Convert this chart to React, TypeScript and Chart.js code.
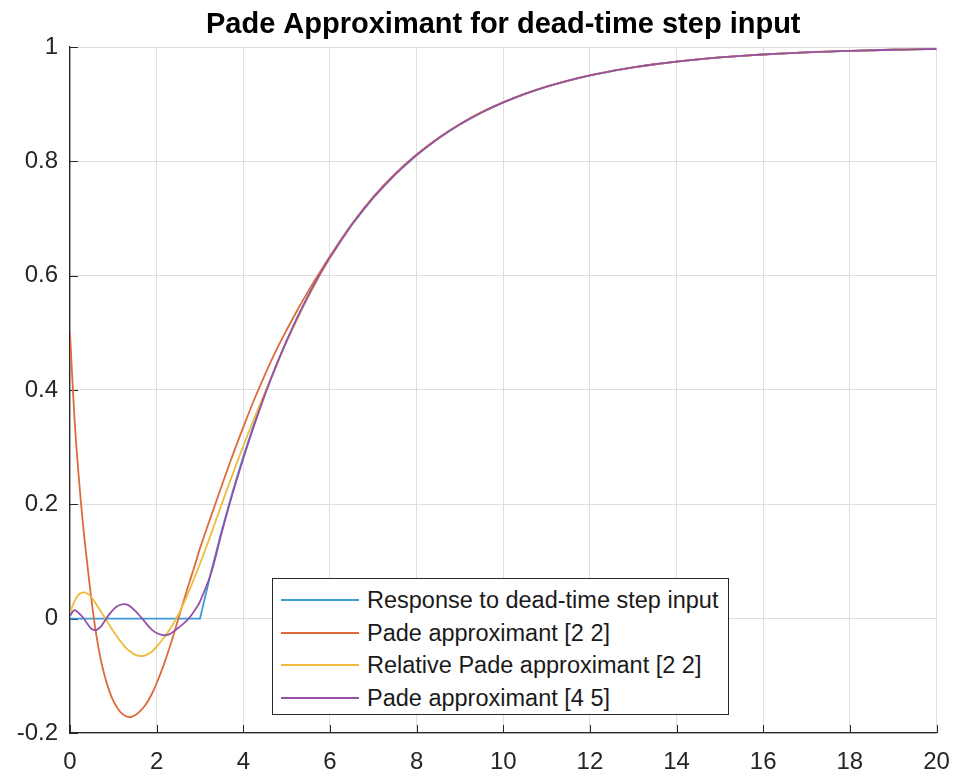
import React, { useEffect, useRef } from "react";
import { Chart, registerables } from "chart.js";

Chart.register(...registerables);

const chartTitle = "Pade Approximant for dead-time step input";

const times = [
  0, 0.1, 0.2, 0.3, 0.4, 0.5, 0.6, 0.7, 0.8, 0.9, 1, 1.1, 1.2, 1.3, 1.4, 1.5, 1.6, 1.7, 1.8, 1.9, 2,
  2.1, 2.2, 2.3, 2.4, 2.5, 2.6, 2.7, 2.8, 2.9, 3,
  3.25, 3.5, 3.75, 4, 4.25, 4.5, 4.75, 5, 5.25, 5.5, 5.75, 6,
  6.5, 7, 7.5, 8, 8.5, 9, 9.5, 10, 10.5, 11, 11.5, 12, 12.5, 13, 13.5, 14, 14.5, 15, 15.5, 16, 16.5,
  17, 17.5, 18, 18.5, 19, 19.5, 20,
];

const responseValues = [
  0, 0, 0, 0, 0, 0, 0, 0, 0, 0, 0, 0, 0, 0, 0, 0, 0, 0, 0, 0, 0,
  0, 0, 0, 0, 0, 0, 0, 0, 0, 0,
  0.08, 0.1535, 0.2212, 0.2835, 0.3408, 0.3935, 0.442, 0.4866, 0.5276, 0.5654, 0.6002, 0.6321,
  0.6886, 0.7364, 0.7769, 0.8111, 0.8401, 0.8647, 0.8854, 0.903, 0.9179, 0.9305, 0.9412, 0.9502,
  0.9579, 0.9643, 0.9698, 0.9744, 0.9784, 0.9817, 0.9845, 0.9869, 0.9889, 0.9906, 0.992, 0.9933,
  0.9943, 0.9952, 0.9959, 0.9965,
];

const pade22Values = [
  0.5, 0.355, 0.25, 0.165, 0.095, 0.03, -0.025, -0.068, -0.1, -0.125, -0.144, -0.157, -0.166,
  -0.171, -0.172, -0.169, -0.163, -0.155, -0.144, -0.13, -0.113, -0.094, -0.073, -0.05, -0.026,
  0.0, 0.025, 0.05, 0.074, 0.098, 0.123,
  0.178, 0.232, 0.285, 0.335, 0.383, 0.427, 0.468, 0.505, 0.54, 0.573, 0.604, 0.634,
  0.69, 0.738, 0.778, 0.812, 0.841, 0.865, 0.886, 0.903, 0.918, 0.9305, 0.9412, 0.9502,
  0.9579, 0.9643, 0.9698, 0.9744, 0.9784, 0.9817, 0.9845, 0.9869, 0.9889, 0.9906, 0.992, 0.9933,
  0.9943, 0.9952, 0.9959, 0.9965,
];

const relativePade22Values = [
  0.01, 0.03, 0.042, 0.046, 0.044, 0.037, 0.026, 0.014, 0.002, -0.01, -0.022, -0.033, -0.043,
  -0.052, -0.058, -0.063, -0.065, -0.065, -0.062, -0.057, -0.049, -0.04, -0.03, -0.019, -0.007,
  0.007, 0.023, 0.04, 0.058, 0.077, 0.096,
  0.147, 0.2, 0.252, 0.302, 0.35, 0.396, 0.44, 0.484, 0.525, 0.563, 0.599, 0.631,
  0.6885, 0.7364, 0.7769, 0.8111, 0.8401, 0.8647, 0.8854, 0.903, 0.9179, 0.9305, 0.9412, 0.9502,
  0.9579, 0.9643, 0.9698, 0.9744, 0.9784, 0.9817, 0.9845, 0.9869, 0.9889, 0.9906, 0.992, 0.9933,
  0.9943, 0.9952, 0.9959, 0.9965,
];

const pade45Values = [
  0.005, 0.015, 0.01, 0.002, -0.009, -0.018, -0.02, -0.015, -0.004, 0.007, 0.016, 0.022, 0.025,
  0.025, 0.021, 0.014, 0.006, -0.003, -0.012, -0.02, -0.025, -0.028, -0.029, -0.027, -0.022,
  -0.016, -0.01, -0.003, 0.006, 0.017, 0.03,
  0.078, 0.15, 0.218, 0.28, 0.338, 0.392, 0.441, 0.486, 0.527, 0.565, 0.6, 0.632,
  0.6886, 0.7364, 0.7769, 0.8111, 0.8401, 0.8647, 0.8854, 0.903, 0.9179, 0.9305, 0.9412, 0.9502,
  0.9579, 0.9643, 0.9698, 0.9744, 0.9784, 0.9817, 0.9845, 0.9869, 0.9889, 0.9906, 0.992, 0.9933,
  0.9943, 0.9952, 0.9959, 0.9965,
];

const seriesLabels = [
  "Response to dead-time step input",
  "Pade approximant [2 2]",
  "Relative Pade approximant [2 2]",
  "Pade approximant [4 5]",
];
const seriesValues = [responseValues, pade22Values, relativePade22Values, pade45Values];
const seriesColors = ["#3d9ad8", "#de6a3a", "#efbb3a", "#9550a8"];

const xTickValues = [0, 2, 4, 6, 8, 10, 12, 14, 16, 18, 20];
const xTickLabels = ["0", "2", "4", "6", "8", "10", "12", "14", "16", "18", "20"];
const yTickValues = [-0.2, 0, 0.2, 0.4, 0.6, 0.8, 1];
const yTickLabels = ["-0.2", "0", "0.2", "0.4", "0.6", "0.8", "1"];

const FONT = "'Liberation Sans', Arial, Helvetica, sans-serif";
const AXIS_COLOR = "#262626";
const GRID_COLOR = "#dfdfdf";

const innerTicks = {
  id: "innerTicks",
  beforeDatasetsDraw(chart: any) {
    const { ctx, chartArea, scales } = chart;
    ctx.save();
    ctx.strokeStyle = AXIS_COLOR;
    ctx.lineWidth = 1;
    ctx.beginPath();
    for (const v of yTickValues) {
      const y = Math.round(scales.y.getPixelForValue(v)) + 0.5;
      ctx.moveTo(chartArea.left, y);
      ctx.lineTo(chartArea.left + 8, y);
    }
    for (const v of xTickValues) {
      const x = Math.round(scales.x.getPixelForValue(v)) + 0.5;
      ctx.moveTo(x, chartArea.bottom);
      ctx.lineTo(x, chartArea.bottom - 8);
    }
    ctx.stroke();
    ctx.restore();
  },
};

const plotTitle = {
  id: "plotTitle",
  afterDraw(chart: any) {
    const { ctx, chartArea } = chart;
    ctx.save();
    ctx.fillStyle = "#000000";
    ctx.font = `bold 29px ${FONT}`;
    ctx.textAlign = "center";
    ctx.textBaseline = "alphabetic";
    ctx.fillText(chartTitle, (chartArea.left + chartArea.right) / 2, 33);
    ctx.restore();
  },
};

export default function App() {
  const canvasRef = useRef<HTMLCanvasElement | null>(null);

  useEffect(() => {
    const canvas = canvasRef.current;
    if (!canvas) return;
    const datasets = seriesValues.map((vals, i) => ({
      label: seriesLabels[i],
      data: times.map((t, j) => ({ x: t, y: vals[j] })),
      borderColor: seriesColors[i],
      backgroundColor: seriesColors[i],
      borderWidth: 1.8,
      pointRadius: 0,
      pointHoverRadius: 0,
      fill: false,
      tension: i === 0 ? 0 : 0.35,
      order: seriesValues.length - 1 - i,
    }));

    const chart = new Chart(canvas, {
      type: "line",
      data: { datasets },
      plugins: [innerTicks, plotTitle],
      options: {
        animation: false,
        responsive: true,
        maintainAspectRatio: false,
        layout: { padding: { left: 0, right: 18.5, top: 47, bottom: 0 } },
        plugins: {
          legend: { display: false },
          tooltip: { enabled: false },
          title: { display: false },
        },
        scales: {
          x: {
            type: "linear",
            min: 0,
            max: 20,
            afterBuildTicks: (scale: any) => {
              scale.ticks = xTickValues.map((v) => ({ value: v }));
            },
            afterFit: (scale: any) => {
              scale.height = 43;
              scale.paddingLeft = 0;
              scale.paddingRight = 0;
            },
            ticks: {
              color: AXIS_COLOR,
              font: { family: FONT, size: 24 },
              padding: 15,
              maxRotation: 0,
              autoSkip: false,
              callback: (value: any) => xTickLabels[xTickValues.indexOf(Number(value))] ?? "",
            },
            grid: { color: GRID_COLOR, lineWidth: 1, drawTicks: false },
            border: { display: true, color: AXIS_COLOR, width: 1.3 },
          },
          y: {
            type: "linear",
            min: -0.2,
            max: 1,
            afterBuildTicks: (scale: any) => {
              scale.ticks = yTickValues.map((v) => ({ value: v }));
            },
            afterFit: (scale: any) => {
              scale.width = 70;
              scale.paddingTop = 0;
              scale.paddingBottom = 0;
            },
            ticks: {
              color: AXIS_COLOR,
              font: { family: FONT, size: 24 },
              padding: 12,
              autoSkip: false,
              callback: (value: any) => {
                const idx = yTickValues.findIndex((v) => Math.abs(v - Number(value)) < 1e-9);
                return idx >= 0 ? yTickLabels[idx] : "";
              },
            },
            grid: { color: GRID_COLOR, lineWidth: 1, drawTicks: false },
            border: { display: true, color: AXIS_COLOR, width: 1.3 },
          },
        },
      },
    });
    return () => chart.destroy();
  }, []);

  return (
    <div style={{ position: "fixed", left: 0, top: 0, width: 955, height: 776, background: "#ffffff" }}>
      <canvas ref={canvasRef} />
      <div
        style={{
          position: "absolute",
          left: 272,
          top: 578,
          width: 457,
          height: 137,
          border: `1px solid ${AXIS_COLOR}`,
          background: "#ffffff",
          boxSizing: "border-box",
          fontFamily: FONT,
          fontSize: 23.5,
          color: "#1a1a1a",
          paddingTop: 5,
        }}
      >
        {seriesLabels.map((label, i) => (
          <div key={label} style={{ display: "flex", alignItems: "center", height: 32.5 }}>
            <div style={{ marginLeft: 8, width: 78, height: 2, background: seriesColors[i], flexShrink: 0 }} />
            <span style={{ marginLeft: 8, whiteSpace: "nowrap", lineHeight: "32.5px" }}>{label}</span>
          </div>
        ))}
      </div>
    </div>
  );
}
